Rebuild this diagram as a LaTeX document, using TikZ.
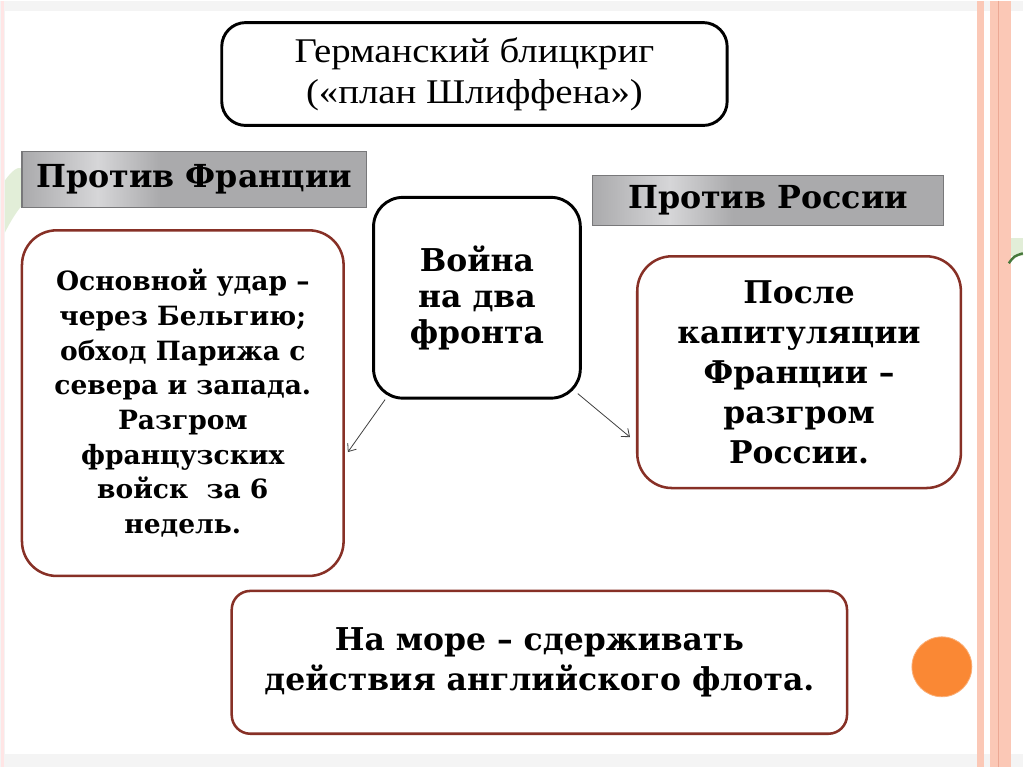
\documentclass[tikz,border=0pt]{standalone}
\usepackage{fontspec}
\setmainfont{Liberation Serif}
\newfontfamily\titlefont{Liberation Serif}[FakeStretch=1.12]
\newfontfamily\schfont{DejaVu Serif}
\usepackage{tikz}
\usetikzlibrary{shapes}
\usetikzlibrary{positioning}
\usetikzlibrary{arrows.meta}
\definecolor{boxred}{RGB}{135,48,38}
\definecolor{metalgray}{RGB}{170,170,172}
\definecolor{metallight}{RGB}{214,214,216}
\definecolor{metaledge}{RGB}{120,120,122}
\definecolor{stripe}{RGB}{251,200,182}
\definecolor{stripedark}{RGB}{236,168,148}
\definecolor{dotorange}{RGB}{250,136,52}
\definecolor{dotedge}{RGB}{250,175,120}
\definecolor{leafgreen}{RGB}{226,238,216}
\definecolor{leafdark}{RGB}{70,120,60}
\pgfdeclarehorizontalshading{metal}{100bp}{color(0bp)=(metalgray); color(25bp)=(metalgray); color(36bp)=(metallight); color(45bp)=(metalgray); color(100bp)=(metalgray)}
\tikzset{
    mynodek/.style = {rectangle, rounded corners=#1, line width=2.2pt, draw=black, fill=white, align=center, inner sep=0pt},
    mynoder/.style = {rectangle, rounded corners=#1, line width=1.9pt, draw=boxred, fill=white, align=center, inner sep=0pt},
    mynodeg/.style = {rectangle, draw=metaledge, line width=0.8pt, shading=metal, align=center, inner sep=0pt,
                      font=\schfont\bfseries\fontsize{23.8}{27}\selectfont},
    edgen/.style = {-{Straight Barb[length=5pt,width=8pt]}, line width=0.6pt, draw=black!75},
}

\begin{document}
\begin{tikzpicture}[x=0.75pt,y=-0.75pt]
% slide background
\fill[gray!9] (0,0) rectangle (1024,767);
\fill[white] (5,10) rectangle (1024,754);
\fill[red!10] (1,0) rectangle (4,767);
\fill[stripe] (978,0) rectangle (985,767);
\fill[stripe] (991,0) rectangle (1012,767);
\draw[stripedark, line width=0.9pt] (1000,0) -- (1000,767);
% leaves
\fill[leafgreen] (5,180) .. controls (12,170) and (18,166) .. (22,168) -- (22,205) .. controls (16,212) and (10,222) .. (5,232) -- cycle;
\fill[leafgreen] (1012,238) rectangle (1024,256);
\draw[leafdark, line width=1.8pt] (1010,263) .. controls (1015,256) .. (1024,253);
%
\node[mynodek=18pt, minimum width=379.5pt, minimum height=77.25pt,
      font=\titlefont\fontsize{26}{31}\selectfont] at (475,73.5) (plan)
      {Германский блицкриг\\(«план Шлиффена»)};
\node[mynodeg, minimum width=258.75pt, minimum height=42pt] at (194.5,179) (vsfr) {Против Франции};
\node[mynodeg, minimum width=264pt, minimum height=37.5pt] at (769,200) (vsru) {Против России};
\node[mynodek=22pt, minimum width=155.25pt, minimum height=150.75pt,
      font=\schfont\bfseries\fontsize{23.6}{27}\selectfont] at (477.5,297.5) (war)
      {Война\\на два\\фронта};
\node[mynoder=26pt, minimum width=241.5pt, minimum height=259.5pt,
      font=\schfont\bfseries\fontsize{19.9}{26}\selectfont] at (183,403) (fr)
      {Основной удар –\\через Бельгию;\\обход Парижа с\\севера и запада.\\Разгром\\французских\\войск~~за 6\\недель.};
\node[mynoder=26pt, minimum width=243pt, minimum height=174pt,
      font=\schfont\bfseries\fontsize{23.5}{30}\selectfont] at (800,372) (ru)
      {После\\капитуляции\\Франции –\\разгром\\России.};
\node[mynoder=14pt, minimum width=462pt, minimum height=107.25pt,
      font=\schfont\bfseries\fontsize{23.6}{30.75}\selectfont] at (540,662.5) (sea)
      {На море – сдерживать\\действия английского флота.};
%
\draw[edgen] ([xshift=9.75pt]war.south west) -- ([xshift=2.25pt,yshift=-36.75pt]fr.east);
\draw[edgen] ([xshift=-3pt,yshift=4.5pt]war.south east) -- ([xshift=-4.5pt,yshift=-48.75pt]ru.west);
%
\node[circle, fill=dotorange, draw=dotedge, line width=0.6pt, minimum size=45pt, inner sep=0pt] at (943,667) (dot) {};

\path[use as bounding box] (0,0) rectangle (1024,767);

\end{tikzpicture}
\end{document}
